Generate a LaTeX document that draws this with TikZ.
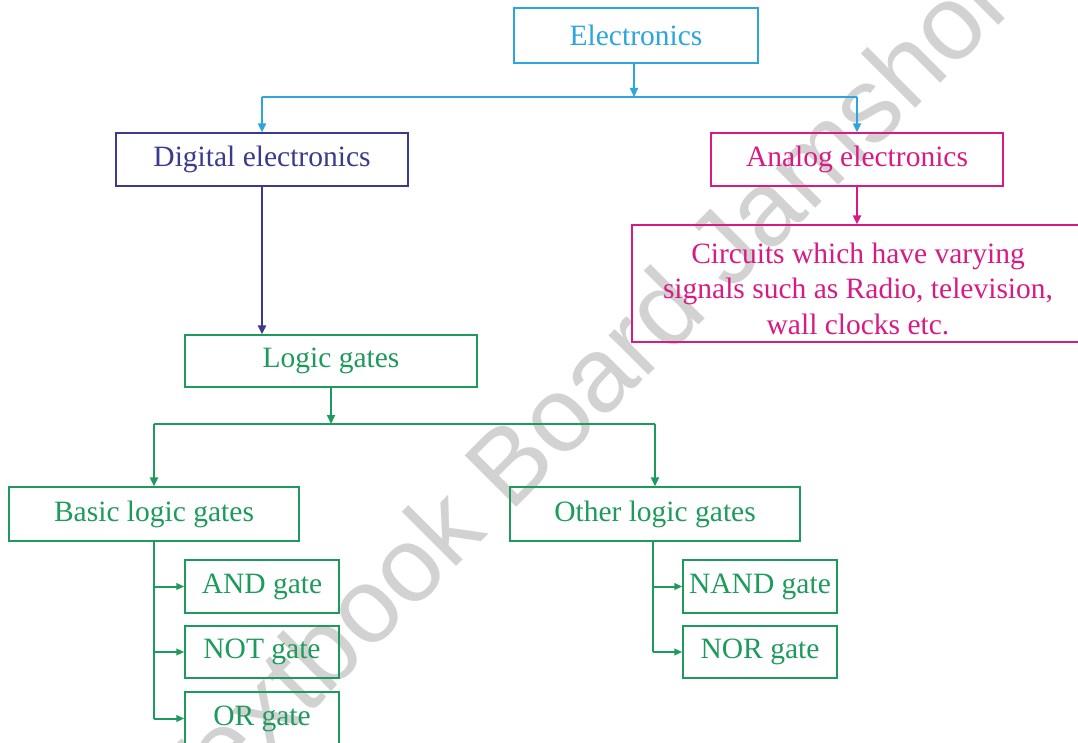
\documentclass[tikz,border=0pt]{standalone}
\usepackage{fontspec}
\setmainfont{Liberation Serif}
\newfontfamily\wmfont{Liberation Sans}
\usetikzlibrary{arrows.meta}
\definecolor{ecyan}{HTML}{2BA6DE}
\definecolor{enavy}{HTML}{3A3A8E}
\definecolor{emag}{HTML}{D81B84}
\definecolor{egreen}{HTML}{1E9B5C}
\definecolor{wmgray}{HTML}{D2D2D2}
\begin{document}
\begin{tikzpicture}[x=1pt,y=-1pt,
  box/.style={draw, line width=1.3pt, rectangle, inner sep=0pt, align=center,
    font=\fontsize{29.5}{35}\selectfont},
  plain/.style={inner sep=0pt, align=center, font=\fontsize{29.5}{35.5}\selectfont},
  line/.style={line width=2pt},
  arr/.style={line width=2pt, -{Triangle[length=9pt,width=8pt]}},
  sarr/.style={line width=2pt, -{Triangle[length=8pt,width=6.5pt]}}]
\useasboundingbox (0,0) rectangle (1078,743);
\fill[white] (0,0) rectangle (1078,743);
\clip (0,0) rectangle (1078,743);
% watermark
\node[wmgray, rotate=45, font=\wmfont\fontsize{106}{106}\selectfont, inner sep=0pt] (wm) at (598,372) {Textbook Board Jamshoro};
% boxes
\node[box, ecyan, minimum width=244pt, minimum height=55pt] (el) at (636,35.5) {Electronics};
\node[box, enavy, minimum width=292pt, minimum height=53pt] (dig) at (262,159.5) {Digital electronics};
\node[box, emag, minimum width=292pt, minimum height=53pt] (an) at (857,159.5) {Analog electronics};
\node[box, emag, minimum width=452pt, minimum height=117pt] (circ) at (858,283.5) {};
\node[plain, emag] (circtext) at ([yshift=-5pt]circ.center) {Circuits which have varying\\signals such as Radio, television,\\wall clocks etc.};
\node[box, egreen, minimum width=292pt, minimum height=52pt] (lg) at (331,361) {Logic gates};
\node[box, egreen, minimum width=290pt, minimum height=54pt] (basic) at (154,514) {Basic logic gates};
\node[box, egreen, minimum width=290pt, minimum height=54pt] (other) at (655,514) {Other logic gates};
\node[box, egreen, minimum width=154pt, minimum height=53pt] (and) at (262,586.5) {AND gate};
\node[box, egreen, minimum width=154pt, minimum height=52pt] (not) at (262,652) {NOT gate};
\node[box, egreen, minimum width=154pt, minimum height=53pt] (or) at (262,718.5) {OR gate};
\node[box, egreen, minimum width=154pt, minimum height=53pt] (nand) at (760,586.5) {NAND gate};
\node[box, egreen, minimum width=154pt, minimum height=52pt] (nor) at (760,652) {NOR gate};
% junctions
\coordinate (j1) at (634,97);
\coordinate (j2) at (331,424);
% connectors: top level
\draw[arr, ecyan] (el.south -| j1) -- (j1);
\draw[line, ecyan] (j1 -| dig.north) -- (j1 -| an.north);
\draw[arr, ecyan] (j1 -| dig.north) -- (dig.north);
\draw[arr, ecyan] (j1 -| an.north) -- (an.north);
\draw[arr, enavy, line width=2.4pt] (dig.south) -- (dig.south |- lg.north);
\draw[arr, emag] (an.south) -- (an.south |- circ.north);
% logic gates
\draw[arr, egreen] (lg.south) -- (j2);
\draw[line, egreen] (j2 -| basic.north) -- (j2 -| other.north);
\draw[arr, egreen] (j2 -| basic.north) -- (basic.north);
\draw[arr, egreen] (j2 -| other.north) -- (other.north);
% basic branch
\draw[line, egreen] (basic.south) -- (basic.south |- or.west);
\draw[sarr, egreen] (basic.south |- and.west) -- (and.west);
\draw[sarr, egreen] (basic.south |- not.west) -- (not.west);
\draw[sarr, egreen] (basic.south |- or.west) -- (or.west);
% other branch
\coordinate (ob) at (653,541);
\draw[line, egreen] (ob) -- (ob |- nor.west);
\draw[sarr, egreen] (ob |- nand.west) -- (nand.west);
\draw[sarr, egreen] (ob |- nor.west) -- (nor.west);
\end{tikzpicture}
\end{document}
